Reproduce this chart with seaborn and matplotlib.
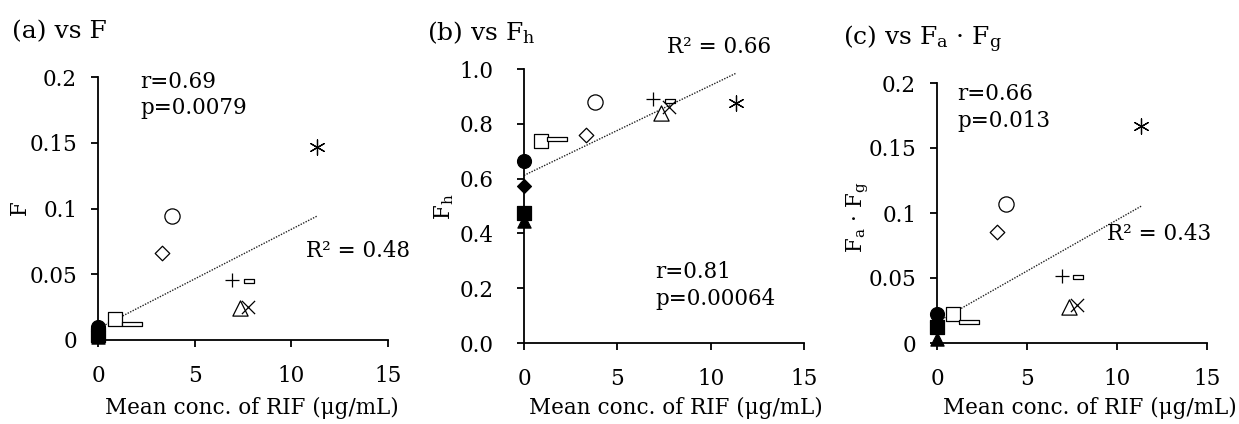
import matplotlib
matplotlib.use('Agg')
import matplotlib.pyplot as plt
import seaborn as sns

# mean RIF concentration (µg/mL), same samples in every panel
conc = [0, 0, 0, 0, 0.9, 1.76, 3.33, 3.83, 6.92, 7.82, 7.35, 7.75, 11.35]
F = [0.010, 0.007, 0.004, 0.002, 0.016, 0.012, 0.066, 0.094, 0.046, 0.045, 0.024, 0.025, 0.147]
Fh = [0.665, 0.572, 0.474, 0.444, 0.736, 0.745, 0.76, 0.88, 0.89, 0.884, 0.84, 0.86, 0.876]
FaFg = [0.0224, 0.016, 0.012, 0.003, 0.022, 0.016, 0.0855, 0.107, 0.0515, 0.051, 0.0275, 0.029, 0.167]

x_ticks = [0, 5, 10, 15]
y_ticks_small = [0, 0.05, 0.1, 0.15, 0.2]
y_labels_small = ['0', '0.05', '0.1', '0.15', '0.2']
y_ticks_fh = [0.0, 0.2, 0.4, 0.6, 0.8, 1.0]
y_labels_fh = ['0.0', '0.2', '0.4', '0.6', '0.8', '1.0']

DASH_W = [(-1, -0.22), (1, -0.22), (1, 0.22), (-1, 0.22), (-1, -0.22)]
DASH_S = [(-1, -0.4), (1, -0.4), (1, 0.4), (-1, 0.4), (-1, -0.4)]

# marker, face colour, size for each sample
styles = [
    ('o', 'black', 100), ('D', 'black', 50), ('s', 'black', 90), ('^', 'black', 90),
    ('s', 'white', 105), (DASH_W, 'white', 200), ('D', 'white', 55), ('o', 'white', 120),
    ('+', 'black', 90), (DASH_S, 'white', 60), ('^', 'white', 120), ('x', 'black', 90),
    ((6, 2, 0), 'black', 120),
]

sns.set_theme(style='ticks')
plt.rcParams['font.family'] = ['DejaVu Serif']
plt.rcParams['mathtext.fontset'] = 'dejavuserif'
plt.rcParams['text.color'] = 'black'

W, H = 1239, 424
FS = 15.5


def px(x, y):
    return x / W, 1 - y / H


def panel(fig, rect, yvals, yticks, ylabels, ylab, ylab_xy, ypad):
    ax = fig.add_axes(rect)
    for cx, cy, (m, fc, s) in zip(conc, yvals, styles):
        if m in ('+', 'x') or isinstance(m, tuple):
            sns.scatterplot(x=[cx], y=[cy], marker=m, s=s, color='black',
                            linewidth=0.9, ax=ax, clip_on=False, zorder=3)
        else:
            sns.scatterplot(x=[cx], y=[cy], marker=m, s=s, color=fc,
                            edgecolor='black', linewidth=0.9, ax=ax,
                            clip_on=False, zorder=3)
    sns.regplot(x=conc, y=yvals, scatter=False, ci=None, truncate=True, ax=ax,
                line_kws=dict(color='#222222', lw=1.0, ls=(0, (1, 1))))
    ax.set_xlim(0, 15)
    ax.set_ylim(yticks[0], yticks[-1])
    ax.set_xticks(x_ticks)
    ax.set_xticklabels([str(t) for t in x_ticks])
    ax.set_yticks(yticks)
    ax.set_yticklabels(ylabels)
    ax.set_xlabel('')
    ax.set_ylabel('')
    sns.despine(ax=ax)
    for sp in ('left', 'bottom'):
        ax.spines[sp].set_linewidth(1.3)
        ax.spines[sp].set_color('black')
    ax.tick_params(axis='both', direction='out', length=5, width=1.3,
                   colors='black', labelcolor='black', labelsize=FS)
    ax.tick_params(axis='x', pad=13)
    ax.tick_params(axis='y', pad=ypad)
    fig.text(*px(*ylab_xy), ylab, rotation=90, ha='center', va='center', fontsize=FS)
    return ax


fig = plt.figure(figsize=(W / 100, H / 100), dpi=100)

ax_a = panel(fig, [98 / W, 1 - 340 / H, 290 / W, 263 / H], F,
             y_ticks_small, y_labels_small, 'F', (20, 208), 10)
ax_b = panel(fig, [524 / W, 1 - 343 / H, 280 / W, 274 / H], Fh,
             y_ticks_fh, y_labels_fh, r'F$_\mathrm{h}$', (444, 207), 17)
ax_c = panel(fig, [937 / W, 1 - 343 / H, 270 / W, 260 / H], FaFg,
             y_ticks_small, y_labels_small, r'F$_\mathrm{a}$ · F$_\mathrm{g}$', (858, 217), 10)

# titles
fig.text(*px(12, 38), '(a) vs F', fontsize=18, va='baseline')
fig.text(*px(427, 40), r'(b) vs F$_\mathrm{h}$', fontsize=18, va='baseline')
fig.text(*px(843, 45), r'(c) vs F$_\mathrm{a}$ · F$_\mathrm{g}$', fontsize=18, va='baseline')

# x labels
for cx in (252, 676, 1090):
    fig.text(*px(cx, 408), 'Mean conc. of RIF (μg/mL)', fontsize=FS, ha='center', va='center')

# statistics
notes = [
    (140, 88, 'r=0.69'), (140, 114, 'p=0.0079'), (306, 257, 'R² = 0.48'),
    (667, 53, 'R² = 0.66'), (655, 278, 'r=0.81'), (655, 305, 'p=0.00064'),
    (957, 100, 'r=0.66'), (957, 127, 'p=0.013'), (1107, 240, 'R² = 0.43'),
]
for nx, ny, t in notes:
    fig.text(*px(nx, ny), t, fontsize=FS, va='baseline', ha='left')

fig.savefig('out.png', dpi=100)
plt.close(fig)
